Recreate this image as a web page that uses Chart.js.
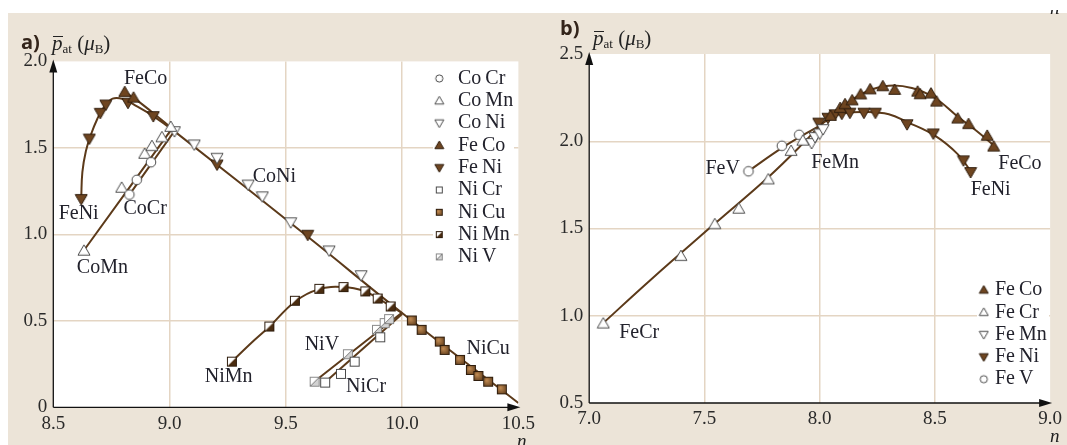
<!DOCTYPE html>
<html>
<head>
<meta charset="utf-8">
<script src="https://cdn.jsdelivr.net/npm/chart.js@4.4.1/dist/chart.umd.min.js"></script>
<style>
    body { margin: 0; background: #fff; width: 1067px; height: 445px; overflow: hidden; position: relative; font-family: "Liberation Serif", serif; }
    #bg { position: absolute; left: 8px; top: 13px; width: 1059px; height: 432px; background: #ece4d8; }
    canvas { position: absolute; top: 0; }
    #ca { left: 0; }
    #cb { left: 540px; }
    .tag { position: absolute; font-family: "Open Sans", sans-serif; font-weight: 700; font-size: 20px; line-height: 1; color: #33241a; }
    .ttl { position: absolute; font-size: 21px; line-height: 1; color: #222; white-space: nowrap; }
    .ttl sub { font-size: 13px; vertical-align: -3px; }
    .pb { position: relative; font-style: italic; }
    .pb::before { content: ''; position: absolute; left: 1px; right: 0; top: 5px; border-top: 1px solid #222; }
    .nl { position: absolute; font-style: italic; font-size: 19px; line-height: 1; color: #222; }
    #cut { position: absolute; left: 1045px; top: 10px; width: 22px; height: 4px; overflow: hidden; }
</style>
</head>
<body>
<div id="bg"></div>
<canvas id="ca" width="540" height="445"></canvas>
<canvas id="cb" width="527" height="445"></canvas>
<div class="tag" style="left:21px; top:32px;">a)</div>
<div class="ttl" style="left:52px; top:33px;"><span class="pb">p</span><sub>at</sub> (<i>μ</i><sub>B</sub>)</div>
<div class="tag" style="left:560px; top:18px;">b)</div>
<div class="ttl" style="left:593px; top:28px;"><span class="pb">p</span><sub>at</sub> (<i>μ</i><sub>B</sub>)</div>
<div class="nl" style="left:517px; top:431px;">n</div>
<div class="nl" style="left:1050px; top:426px;">n</div>
<div id="cut"><div class="nl" style="left:5px; top:-12px;">n</div></div>
<script>
// Slater-Pauling curves

// ---- panel a ----
const aXTicks = [8.5, 9.0, 9.5, 10.0, 10.5];
const aXLabels = ['8.5', '9.0', '9.5', '10.0', '10.5'];
const aYTicks = [0, 0.5, 1.0, 1.5, 2.0];
const aYLabels = ['0', '0.5', '1.0', '1.5', '2.0'];

const aCoCrN = [8.827, 8.859, 8.92];
const aCoCrP = [1.23, 1.315, 1.417];
const aCoMnN = [8.632, 8.794, 8.893, 8.924, 8.967, 9.005];
const aCoMnP = [0.905, 1.269, 1.465, 1.51, 1.561, 1.621];
const aCoNiN = [9.021, 9.106, 9.204, 9.338, 9.399, 9.521, 9.686, 9.824];
const aCoNiP = [1.597, 1.52, 1.443, 1.288, 1.22, 1.07, 0.907, 0.764];
const aFeCoN = [8.807, 8.845];
const aFeCoP = [1.822, 1.79];
const aFeNiN = [8.62, 8.655, 8.702, 8.726, 8.821, 8.93, 9.204, 9.594];
const aFeNiP = [1.205, 1.554, 1.703, 1.751, 1.761, 1.684, 1.404, 0.998];
const aNiCrN = [9.669, 9.737, 9.796, 9.906];
const aNiCrP = [0.143, 0.193, 0.264, 0.405];
const aNiCuN = [10.042, 10.084, 10.162, 10.183, 10.249, 10.296, 10.328, 10.37, 10.429];
const aNiCuP = [0.502, 0.448, 0.38, 0.332, 0.274, 0.216, 0.181, 0.148, 0.104];
const aNiMnN = [9.268, 9.429, 9.539, 9.644, 9.748, 9.842, 9.895, 9.951];
const aNiMnP = [0.264, 0.467, 0.616, 0.685, 0.695, 0.67, 0.629, 0.583];
const aNiVN = [9.624, 9.767, 9.892, 9.925, 9.944];
const aNiVP = [0.148, 0.307, 0.448, 0.487, 0.51];

// fitted curves, panel a
const aFitFeNiN = [8.62, 8.625, 8.64, 8.66, 8.69, 8.72, 8.755, 8.8, 8.86, 8.93, 9.02, 9.6, 10.0, 10.5];
const aFitFeNiP = [1.205, 1.36, 1.48, 1.57, 1.67, 1.74, 1.785, 1.782, 1.74, 1.684, 1.597, 0.98, 0.545, 0.025];
const aFitFeCoN = [8.807, 8.85, 8.92, 9.01];
const aFitFeCoP = [1.822, 1.785, 1.712, 1.612];
const aFitCoMnN = [8.625, 9.015];
const aFitCoMnP = [0.895, 1.62];
const aFitCoCrN = [8.82, 9.025];
const aFitCoCrP = [1.215, 1.605];
const aFitNiMnN = [9.265, 9.35, 9.43, 9.54, 9.64, 9.75, 9.84, 9.9, 9.95, 10.0];
const aFitNiMnP = [0.26, 0.37, 0.467, 0.612, 0.682, 0.695, 0.67, 0.627, 0.585, 0.545];
const aFitNiVN = [9.615, 10.0];
const aFitNiVP = [0.14, 0.548];
const aFitNiCrN = [9.665, 10.0];
const aFitNiCrP = [0.14, 0.54];

const aNoteText = ['FeCo', 'FeNi', 'CoCr', 'CoMn', 'CoNi', 'NiMn', 'NiV', 'NiCr', 'NiCu'];
const aNoteN = [8.897, 8.609, 8.895, 8.711, 9.451, 9.254, 9.655, 9.845, 10.37];
const aNoteP = [1.902, 1.12, 1.149, 0.805, 1.333, 0.177, 0.361, 0.119, 0.336];
const aLegend = ['Co\u2009Cr', 'Co\u2009Mn', 'Co\u2009Ni', 'Fe\u2009Co', 'Fe\u2009Ni', 'Ni\u2009Cr', 'Ni\u2009Cu', 'Ni\u2009Mn', 'Ni\u2009V'];

// ---- panel b ----
const bXTicks = [7.0, 7.5, 8.0, 8.5, 9.0];
const bXLabels = ['7.0', '7.5', '8.0', '8.5', '9.0'];
const bYTicks = [0.5, 1.0, 1.5, 2.0, 2.5];
const bYLabels = ['0.5', '1.0', '1.5', '2.0', '2.5'];

const bFeCoN = [8.047, 8.089, 8.11, 8.141, 8.178, 8.219, 8.274, 8.325, 8.425, 8.436, 8.483, 8.507, 8.599, 8.646, 8.727, 8.755];
const bFeCoP = [2.145, 2.19, 2.212, 2.234, 2.268, 2.297, 2.315, 2.294, 2.284, 2.269, 2.273, 2.227, 2.13, 2.098, 2.031, 1.969];
const bFeCrN = [7.061, 7.398, 7.545, 7.649, 7.777, 7.876, 7.927];
const bFeCrP = [0.955, 1.342, 1.524, 1.613, 1.781, 1.944, 2.003];
const bFeMnN = [7.965, 7.98, 8.0, 8.015];
const bFeMnP = [1.99, 2.025, 2.045, 2.07];
const bFeNiN = [7.996, 8.036, 8.067, 8.096, 8.131, 8.192, 8.242, 8.379, 8.493, 8.624, 8.655];
const bFeNiP = [2.107, 2.135, 2.155, 2.158, 2.164, 2.164, 2.164, 2.098, 2.045, 1.891, 1.824];
const bFeVN = [7.691, 7.836, 7.911];
const bFeVP = [1.828, 1.974, 2.037];

const bFitFeCrN = [7.05, 7.266, 7.545, 7.777, 7.926, 8.0];
const bFitFeCrP = [0.945, 1.205, 1.528, 1.794, 1.985, 2.09];
const bFitFeCoN = [8.0, 8.05, 8.1, 8.2, 8.3, 8.4, 8.5, 8.6, 8.68, 8.77];
const bFitFeCoP = [2.09, 2.145, 2.2, 2.283, 2.318, 2.305, 2.248, 2.14, 2.06, 1.96];
const bFitFeNiN = [8.0, 8.05, 8.1, 8.2, 8.3, 8.38, 8.5, 8.6, 8.66];
const bFitFeNiP = [2.09, 2.135, 2.16, 2.168, 2.155, 2.11, 2.032, 1.925, 1.82];
const bFitFeVN = [7.69, 7.84, 8.0];
const bFitFeVP = [1.828, 1.965, 2.09];

const bNoteText = ['FeV', 'FeMn', 'FeCo', 'FeNi', 'FeCr'];
const bNoteN = [7.579, 8.067, 8.869, 8.742, 7.217];
const bNoteP = [1.842, 1.879, 1.873, 1.724, 0.901];
const bLegend = ['Fe\u2009Co', 'Fe\u2009Cr', 'Fe\u2009Mn', 'Fe\u2009Ni', 'Fe\u2009V'];

// ---- styles ----
const BROWN = '#6e4520';
const EDGE = '#2e1c0c';
const OPEN = '#4a4a4a';
const LINE = '#5c3a1a';
const GRID = '#e4d5c3';
const TEXT = '#22222c';
const FONT = '20px "Liberation Serif", serif';

function marker(kind, s) {
    const c = document.createElement('canvas');
    c.width = c.height = s;
    const g = c.getContext('2d');
    const m = s / 2, r = s / 2 - 1;
    g.lineWidth = 1;
    function tri(dir) {
        g.beginPath();
        g.moveTo(m, m - dir * r);
        g.lineTo(m + r, m + dir * r * 0.72);
        g.lineTo(m - r, m + dir * r * 0.72);
        g.closePath();
    }
    if (kind === 'circle') {
        g.beginPath();
        g.arc(m, m, r * 0.8, 0, Math.PI * 2);
        g.fillStyle = '#fff'; g.fill();
        g.strokeStyle = OPEN; g.stroke();
    } else if (kind === 'up' || kind === 'down') {
        tri(kind === 'up' ? 1 : -1);
        g.fillStyle = '#fff'; g.fill();
        g.strokeStyle = OPEN; g.stroke();
    } else if (kind === 'upFill' || kind === 'downFill') {
        tri(kind === 'upFill' ? 1 : -1);
        g.fillStyle = BROWN; g.fill();
        g.strokeStyle = EDGE; g.stroke();
    } else {
        const p = Math.round(s * 0.14), w = s - 2 * p;
        g.fillStyle = '#fff';
        g.fillRect(p, p, w, w);
        if (kind === 'sqFill') {
            const gr = g.createRadialGradient(m - w * 0.15, m - w * 0.15, 0.5, m, m, w * 0.7);
            gr.addColorStop(0, '#c08a52');
            gr.addColorStop(1, '#4e2f12');
            g.fillStyle = gr;
            g.fillRect(p, p, w, w);
        } else if (kind === 'sqHalf' || kind === 'sqSlash') {
            g.beginPath();
            g.moveTo(p + w, p); g.lineTo(p + w, p + w); g.lineTo(p, p + w);
            g.closePath();
            g.fillStyle = kind === 'sqHalf' ? '#4a2c10' : '#d2d2d2';
            g.fill();
            if (kind === 'sqSlash') {
                g.beginPath(); g.moveTo(p, p + w); g.lineTo(p + w, p);
                g.strokeStyle = '#777'; g.stroke();
            }
        }
        g.strokeStyle = kind === 'sqSlash' ? '#8a8a8a' : (kind === 'square' ? OPEN : EDGE);
        g.strokeRect(p + 0.5, p + 0.5, w - 1, w - 1);
    }
    return c;
}

const kinds = ['circle', 'up', 'down', 'upFill', 'downFill', 'square', 'sqFill', 'sqHalf', 'sqSlash'];
const big = {}, small = {};
kinds.forEach(k => { big[k] = marker(k, 14); small[k] = marker(k, 11); });

function pts(ns, ps) {
    return ns.map((n, i) => ({ x: n, y: ps[i] }));
}

function markSet(label, ns, ps, kind) {
    return { label, data: pts(ns, ps), showLine: false, pointStyle: big[kind], pointRadius: 6, order: 0 };
}

function fitSet(ns, ps) {
    return { data: pts(ns, ps), showLine: true, borderColor: LINE, borderWidth: 2, pointRadius: 0, tension: 0.4, order: 1, fill: false };
}

// white plot area, legend, labels, axis arrows
const deco = {
    id: 'deco',
    beforeDraw(chart) {
        const { ctx, chartArea: a } = chart;
        ctx.save();
        ctx.fillStyle = '#fff';
        ctx.fillRect(a.left, a.top, a.right - a.left, a.bottom - a.top);
        ctx.restore();
    },
    beforeDatasetsDraw(chart, args, o) {
        const ctx = chart.ctx;
        ctx.save();
        ctx.fillStyle = '#fff';
        ctx.fillRect(o.box[0], o.box[1], o.box[2], o.box[3]);
        ctx.font = FONT;
        ctx.textBaseline = 'middle';
        ctx.textAlign = 'left';
        ctx.fillStyle = TEXT;
        o.legend.forEach((it, i) => {
            const y = o.y0 + i * o.dy;
            const img = small[it.kind];
            ctx.drawImage(img, o.mx - img.width / 2, y - img.height / 2);
            ctx.fillText(it.text, o.tx, y);
        });
        ctx.restore();
    },
    afterDatasetsDraw(chart, args, o) {
        const { ctx, chartArea: a, scales } = chart;
        ctx.save();
        ctx.font = FONT;
        ctx.fillStyle = TEXT;
        ctx.textAlign = 'center';
        ctx.textBaseline = 'middle';
        o.notes.text.forEach((t, i) => {
            ctx.fillText(t, scales.x.getPixelForValue(o.notes.n[i]), scales.y.getPixelForValue(o.notes.p[i]));
        });
        // axes with arrow heads
        ctx.strokeStyle = '#111';
        ctx.fillStyle = '#111';
        ctx.lineWidth = 1.3;
        ctx.beginPath();
        ctx.moveTo(a.left, a.bottom); ctx.lineTo(a.left, a.top + 6);
        ctx.moveTo(a.left, a.bottom); ctx.lineTo(a.right - 6, a.bottom);
        ctx.stroke();
        ctx.beginPath();
        ctx.moveTo(a.left, a.top - 2); ctx.lineTo(a.left - 4, a.top + 11); ctx.lineTo(a.left + 4, a.top + 11);
        ctx.closePath(); ctx.fill();
        ctx.beginPath();
        ctx.moveTo(a.right + 2, a.bottom); ctx.lineTo(a.right - 11, a.bottom - 4); ctx.lineTo(a.right - 11, a.bottom + 4);
        ctx.closePath(); ctx.fill();
        ctx.restore();
    }
};

function axis(ticks, labels, fit, isX, pad) {
    const sc = {
        type: 'linear',
        min: ticks[0],
        max: ticks[ticks.length - 1],
        afterBuildTicks: s => { s.ticks = ticks.map(v => ({ value: v })); },
        grid: {
            color: c => (c.index === 0 || c.index === ticks.length - 1) ? 'rgba(0,0,0,0)' : GRID,
            lineWidth: 1.5,
            drawTicks: false
        },
        border: { display: false },
        ticks: {
            autoSkip: false,
            maxRotation: 0,
            padding: pad,
            color: '#2a2a2a',
            font: { family: '"Liberation Serif", serif', size: 19 },
            callback: (v, i) => labels[i]
        }
    };
    if (isX) sc.afterFit = s => { s.height = fit; };
    else sc.afterFit = s => { s.width = fit; };
    return sc;
}

function options(p) {
    return {
        responsive: false,
        animation: false,
        events: [],
        layout: { padding: { top: p.top, right: p.right, left: 0, bottom: 0 } },
        scales: {
            x: axis(p.xTicks, p.xLabels, p.bottom, true, 5),
            y: axis(p.yTicks, p.yLabels, p.left, false, 6)
        },
        plugins: {
            legend: { display: false },
            tooltip: { enabled: false },
            deco: p.deco
        }
    };
}

new Chart(document.getElementById('ca'), {
    type: 'scatter',
    data: {
        datasets: [
            markSet('CoCr', aCoCrN, aCoCrP, 'circle'),
            markSet('CoMn', aCoMnN, aCoMnP, 'up'),
            markSet('CoNi', aCoNiN, aCoNiP, 'down'),
            markSet('FeCo', aFeCoN, aFeCoP, 'upFill'),
            markSet('FeNi', aFeNiN, aFeNiP, 'downFill'),
            markSet('NiCr', aNiCrN, aNiCrP, 'square'),
            markSet('NiCu', aNiCuN, aNiCuP, 'sqFill'),
            markSet('NiMn', aNiMnN, aNiMnP, 'sqHalf'),
            markSet('NiV', aNiVN, aNiVP, 'sqSlash'),
            fitSet(aFitFeNiN, aFitFeNiP),
            fitSet(aFitFeCoN, aFitFeCoP),
            fitSet(aFitCoMnN, aFitCoMnP),
            fitSet(aFitCoCrN, aFitCoCrP),
            fitSet(aFitNiMnN, aFitNiMnP),
            fitSet(aFitNiVN, aFitNiVP),
            fitSet(aFitNiCrN, aFitNiCrP)
        ]
    },
    options: options({
        top: 61.4, right: 13.4, left: 53.3, bottom: 37.7,
        xTicks: aXTicks, xLabels: aXLabels, yTicks: aYTicks, yLabels: aYLabels,
        deco: {
            notes: { text: aNoteText, n: aNoteN, p: aNoteP },
            legend: aLegend.map((t, i) => ({ text: t, kind: kinds[i] })),
            box: [433, 67, 81, 201], mx: 439.3, tx: 458, y0: 78.5, dy: 22.3
        }
    }),
    plugins: [deco]
});

new Chart(document.getElementById('cb'), {
    type: 'scatter',
    data: {
        datasets: [
            markSet('FeCo', bFeCoN, bFeCoP, 'upFill'),
            markSet('FeCr', bFeCrN, bFeCrP, 'up'),
            markSet('FeMn', bFeMnN, bFeMnP, 'down'),
            markSet('FeNi', bFeNiN, bFeNiP, 'downFill'),
            markSet('FeV', bFeVN, bFeVP, 'circle'),
            fitSet(bFitFeCrN, bFitFeCrP),
            fitSet(bFitFeCoN, bFitFeCoP),
            fitSet(bFitFeNiN, bFitFeNiP),
            fitSet(bFitFeVN, bFitFeVP)
        ]
    },
    options: options({
        top: 54, right: 8, left: 49.2, bottom: 42,
        xTicks: bXTicks, xLabels: bXLabels, yTicks: bYTicks, yLabels: bYLabels,
        deco: {
            notes: { text: bNoteText, n: bNoteN, p: bNoteP },
            legend: bLegend.map((t, i) => ({ text: t, kind: ['upFill', 'up', 'down', 'downFill', 'circle'][i] })),
            box: [437, 279, 72, 111], mx: 443.8, tx: 455, y0: 290, dy: 22.3
        }
    }),
    plugins: [deco]
});
</script>
</body>
</html>
